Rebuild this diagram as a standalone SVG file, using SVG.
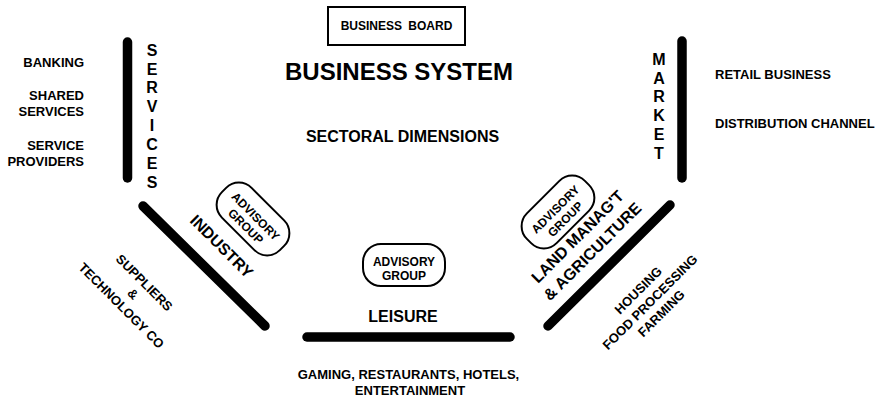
<svg xmlns="http://www.w3.org/2000/svg" width="881" height="396" viewBox="0 0 881 396">
<style>
text{font-family:"Liberation Sans",Arial,Helvetica,sans-serif;font-weight:bold;fill:#000}
.s13{font-size:13px}
.s12{font-size:12px}
.s16{font-size:16px}
.s24{font-size:24px}
.m{text-anchor:middle}
.e{text-anchor:end}
.bar{stroke:#000;stroke-width:9.5;stroke-linecap:round;fill:none}
.adv{fill:#fff;stroke:#000;stroke-width:2}
</style>
<rect width="881" height="396" fill="#fff"/>
<g id="connectors">
<line class="bar" x1="127.5" y1="42" x2="127.5" y2="178"/>
<line class="bar" x1="682" y1="41" x2="682" y2="178"/>
<line class="bar" x1="143" y1="206" x2="265" y2="326"/>
<line class="bar" x1="307" y1="337" x2="510" y2="337"/>
<line class="bar" x1="548" y1="326" x2="670" y2="205"/>
</g>
<g id="business-board">
<rect x="328" y="7" width="137" height="38" fill="#fff" stroke="#000" stroke-width="2"/>
<text class="s12 m" x="396.5" y="30" word-spacing="3">BUSINESS BOARD</text>
</g>
<g id="title">
<text class="s24 m" x="399" y="80">BUSINESS SYSTEM</text>
<text class="s16 m" x="402.5" y="142">SECTORAL DIMENSIONS</text>
</g>
<g id="services">
<text class="s16 m" x="152" y="56">S</text>
<text class="s16 m" x="152" y="74.5">E</text>
<text class="s16 m" x="152" y="93">R</text>
<text class="s16 m" x="152" y="112">V</text>
<text class="s16 m" x="152" y="131">I</text>
<text class="s16 m" x="152" y="150">C</text>
<text class="s16 m" x="152" y="168.5">E</text>
<text class="s16 m" x="152" y="187.5">S</text>
</g>
<g id="services-examples">
<text class="s13 e" x="84" y="67">BANKING</text>
<text class="s13 e" x="84" y="100">SHARED</text>
<text class="s13 e" x="84" y="116">SERVICES</text>
<text class="s13 e" x="84" y="150">SERVICE</text>
<text class="s13 e" x="84" y="166">PROVIDERS</text>
</g>
<g id="market">
<text class="s16 m" x="659" y="65">M</text>
<text class="s16 m" x="659" y="83.5">A</text>
<text class="s16 m" x="659" y="102">R</text>
<text class="s16 m" x="659" y="121">K</text>
<text class="s16 m" x="659" y="140">E</text>
<text class="s16 m" x="659" y="159">T</text>
</g>
<g id="market-examples">
<text class="s13" x="715" y="79">RETAIL BUSINESS</text>
<text class="s13" x="715" y="128">DISTRIBUTION CHANNEL</text>
</g>
<g id="industry" transform="translate(222,246) rotate(45)">
<text class="s16 m" x="0" y="6">INDUSTRY</text>
</g>
<g id="industry-advisory" transform="translate(253,219) rotate(45)">
<rect class="adv" x="-41" y="-21" width="82" height="42" rx="18"/>
<text class="s12 m" x="0" y="0.5">ADVISORY</text>
<text class="s12 m" x="0" y="14.5">GROUP</text>
</g>
<g id="industry-examples" transform="translate(133,294) rotate(45)">
<text class="s13 m" x="0" y="-11.5">SUPPLIERS</text>
<text class="s13 m" x="0" y="4.5">&amp;</text>
<text class="s13 m" x="0" y="21">TECHNOLOGY CO</text>
</g>
<g id="leisure">
<text class="s16 m" x="403" y="322">LEISURE</text>
</g>
<g id="leisure-advisory">
<rect class="adv" x="363" y="244" width="82" height="42" rx="18"/>
<text class="s12 m" x="404" y="265.5">ADVISORY</text>
<text class="s12 m" x="404" y="279.5">GROUP</text>
</g>
<g id="leisure-examples">
<text class="s13 m" x="408.5" y="379">GAMING, RESTAURANTS, HOTELS,</text>
<text class="s13 m" x="410" y="394.5">ENTERTAINMENT</text>
</g>
<g id="land" transform="translate(585,244) rotate(-45)">
<text class="s16 m" x="0" y="-5">LAND MANAG'T</text>
<text class="s16 m" x="0" y="16">&amp; AGRICULTURE</text>
</g>
<g id="land-advisory" transform="translate(558,212) rotate(-45)">
<rect class="adv" x="-41" y="-21" width="82" height="42" rx="18"/>
<text class="s12 m" x="0" y="0.5">ADVISORY</text>
<text class="s12 m" x="0" y="14.5">GROUP</text>
</g>
<g id="land-examples" transform="translate(650,302) rotate(-45)">
<text class="s13 m" x="0" y="-12">HOUSING</text>
<text class="s13 m" x="0" y="4.5">FOOD PROCESSING</text>
<text class="s13 m" x="0" y="20.5">FARMING</text>
</g>
</svg>
